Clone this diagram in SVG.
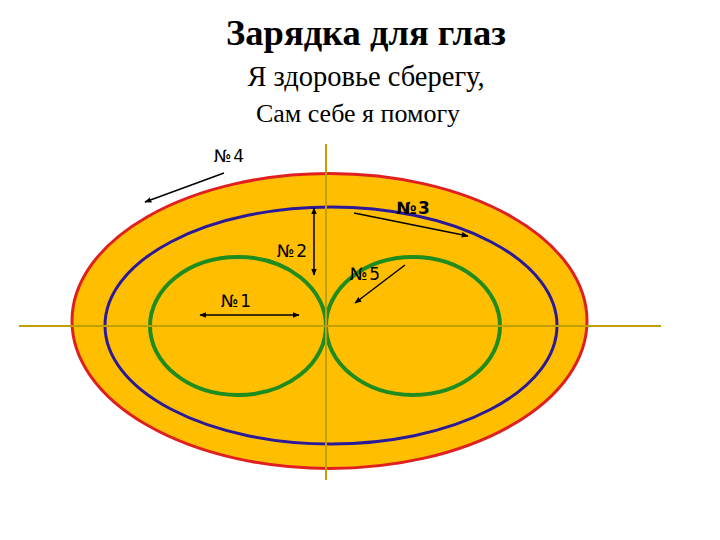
<svg xmlns="http://www.w3.org/2000/svg" width="720" height="540" viewBox="0 0 720 540">
<defs>
<style>
.title{font-family:"Liberation Serif","Times New Roman",serif;font-weight:bold;font-size:36.5px;fill:#000}
.sub{font-family:"Liberation Serif","Times New Roman",serif;fill:#000}
.lbl{font-family:"DejaVu Sans","Liberation Sans",sans-serif;font-size:17px;fill:#000;letter-spacing:1.5px}
.axis{stroke:#C0A000;stroke-width:2;fill:none}
.arr{stroke:#000;stroke-width:1.5;fill:none}
</style>
<marker id="ah" viewBox="0 0 10 10" refX="9" refY="5" markerWidth="7" markerHeight="7" orient="auto-start-reverse" markerUnits="userSpaceOnUse">
<path d="M0,1 L10,5 L0,9 z" fill="#000"/>
</marker>
</defs>
<rect width="720" height="540" fill="#fff"/>
<g id="title">
<text class="title" x="366" y="45" text-anchor="middle">Зарядка для глаз</text>
<text class="sub" x="366" y="86" text-anchor="middle" font-size="28.5">Я здоровье сберегу,</text>
<text class="sub" x="358" y="122" text-anchor="middle" font-size="26">Сам себе я помогу</text>
</g>
<g id="outer">
<ellipse cx="329.5" cy="321" rx="257.5" ry="147.5" fill="#FFBF00" stroke="#E02020" stroke-width="3"/>
</g>
<g id="middle">
<ellipse cx="331" cy="325.5" rx="226" ry="118.5" fill="none" stroke="#2A1A9A" stroke-width="3"/>
</g>
<g id="left-circle">
<ellipse cx="238" cy="326" rx="88" ry="69" fill="none" stroke="#1E8C1E" stroke-width="4"/>
</g>
<g id="right-circle">
<ellipse cx="413" cy="326" rx="87" ry="69" fill="none" stroke="#1E8C1E" stroke-width="4"/>
</g>
<g id="axes">
<line class="axis" x1="19" y1="326" x2="661" y2="326"/>
<line class="axis" x1="326" y1="144" x2="326" y2="480"/>
</g>
<g id="connectors">
<line class="arr" x1="224" y1="173" x2="145" y2="202" marker-end="url(#ah)"/>
<line class="arr" x1="354" y1="213" x2="468" y2="236" marker-end="url(#ah)"/>
<line class="arr" x1="314" y1="208" x2="314" y2="275" marker-start="url(#ah)" marker-end="url(#ah)"/>
<line class="arr" x1="405" y1="265" x2="355" y2="303" marker-end="url(#ah)"/>
<line class="arr" x1="200" y1="315" x2="299" y2="315" marker-start="url(#ah)" marker-end="url(#ah)"/>
</g>
<g id="labels">
<text class="lbl" x="214" y="162">№4</text>
<text class="lbl" x="396" y="214" font-weight="bold">№3</text>
<text class="lbl" x="277" y="257">№2</text>
<text class="lbl" x="350" y="280">№5</text>
<text class="lbl" x="221" y="307">№1</text>
</g>
</svg>
